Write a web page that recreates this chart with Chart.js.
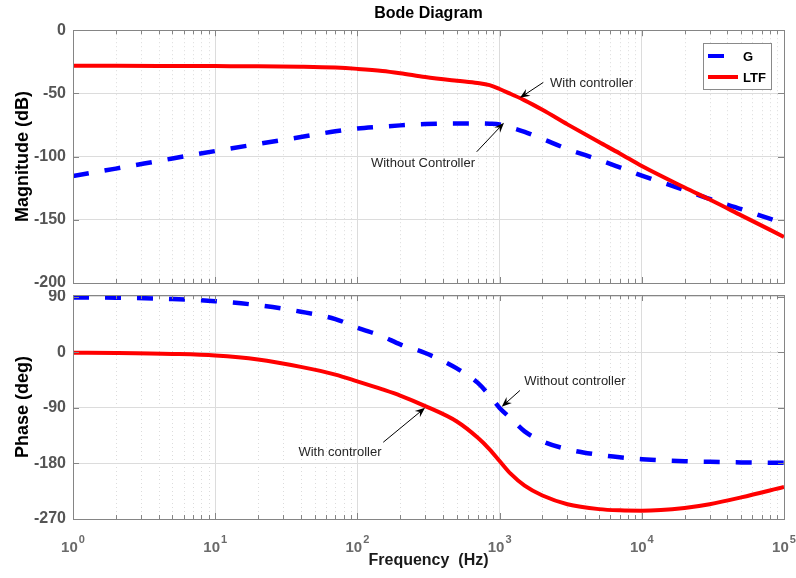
<!DOCTYPE html>
<html>
<head>
<meta charset="utf-8">
<script src="https://cdn.jsdelivr.net/npm/chart.js@4.4.0/dist/chart.umd.min.js"></script>
<style>
  body { margin: 0; background: #fff; }
  #wrap { position: relative; width: 796px; height: 578px; background: #fff; }
  .box { position: absolute; left: 0; width: 796px; }
</style>
</head>
<body>
<div id="wrap">
  <div class="box" style="top:0;height:290px"><canvas id="mag" width="796" height="290"></canvas></div>
  <div class="box" style="top:290px;height:288px"><canvas id="phase" width="796" height="288"></canvas></div>
</div>
<script>
// frequencies (Hz)
const freq = [1, 2, 5, 10, 20, 40, 70, 100, 150, 200, 300, 500, 700, 850, 1000,
  1200, 1500, 2000, 3000, 5000, 7000, 10000, 20000, 30000, 50000, 100000];

// magnitude (dB)
const gMag = [-115.4, -109.5, -101.5, -95.6, -90, -84.5, -80, -77.8, -76.3, -75.3, -74.3,
  -73.8, -73.8, -74, -74.5, -77, -80.5, -86, -94, -102.5, -108.5, -115, -126.5, -133.5, -141.5, -153];
const ltfMag = [-28.2, -28.2, -28.3, -28.4, -28.5, -28.9, -29.6, -30.6, -32.2, -34, -37,
  -40, -41.8, -43.5, -46.5, -50.5, -55.5, -63, -74.5, -88.5, -97.5, -107.5, -124.5, -134, -146.5, -163.5];

// phase (deg)
const gPhase = [89, 88.7, 86.5, 83, 76.5, 66, 54, 40, 26, 13, -1, -26, -49, -70, -90,
  -107, -128, -144, -157, -166, -170, -173, -176.3, -177.3, -178.3, -179];
const ltfPhase = [-0.5, -1, -2.5, -5, -11.5, -23.5, -36, -47, -60, -70, -87, -112, -138, -157, -176,
  -197, -216, -232, -246, -254, -256, -256.5, -252, -246, -235, -218];

const freqTicks = [1, 10, 100, 1000, 10000, 100000];
const magTicks = [0, -50, -100, -150, -200];
const phaseTicks = [90, 0, -90, -180, -270];

const seriesNames = ['G', 'LTF'];
const seriesColors = ['#0000ff', '#ff0000'];

const magNotes = [
  { text: 'With controller', tx: 2262, ty: -42.5, align: 'left', ax: 2030, ay: -41.3, hx: 1390, hy: -53.5 },
  { text: 'Without Controller', tx: 289, ty: -105.1, align: 'center', ax: 690, ay: -96.2, hx: 1074, hy: -73.3 }
];
const phaseNotes = [
  { text: 'Without controller', tx: 1492, ty: -46.6, align: 'left', ax: 1390, ay: -61.7, hx: 1035, hy: -88 },
  { text: 'With controller', tx: 75.4, ty: -162.8, align: 'center', ax: 152, ay: -145.6, hx: 299, hy: -89.8 }
];

const FONT = 'Liberation Sans, Arial, sans-serif';
const DASH = [16, 16];

function pts(ys) {
  return freq.map((f, i) => ({ x: f, y: ys[i] }));
}

function drawArrow(ctx, x1, y1, x2, y2) {
  const ang = Math.atan2(y2 - y1, x2 - x1);
  const len = 10, wid = 4;
  ctx.save();
  ctx.strokeStyle = '#000';
  ctx.fillStyle = '#000';
  ctx.lineWidth = 1;
  ctx.beginPath();
  ctx.moveTo(x1, y1);
  ctx.lineTo(x2 - Math.cos(ang) * 6, y2 - Math.sin(ang) * 6);
  ctx.stroke();
  ctx.translate(x2, y2);
  ctx.rotate(ang);
  ctx.beginPath();
  ctx.moveTo(0, 0);
  ctx.lineTo(-len, -wid);
  ctx.lineTo(-len * 0.65, 0);
  ctx.lineTo(-len, wid);
  ctx.closePath();
  ctx.fill();
  ctx.restore();
}

const bodePlugin = {
  id: 'bode',
  beforeDatasetsDraw(chart) {
    const { ctx, chartArea: a, scales: { x } } = chart;
    ctx.save();
    ctx.strokeStyle = '#dcdcdc';
    ctx.lineWidth = 1;
    ctx.setLineDash([1, 3]);
    for (let d = 1; d < 100000; d *= 10) {
      for (let k = 2; k <= 9; k++) {
        const px = Math.round(x.getPixelForValue(k * d)) + 0.5;
        ctx.beginPath();
        ctx.moveTo(px, a.top);
        ctx.lineTo(px, a.bottom);
        ctx.stroke();
      }
    }
    ctx.restore();
  },
  afterDatasetsDraw(chart, args, opts) {
    const { ctx, chartArea: a, scales: { x, y } } = chart;
    ctx.save();
    // box and inward ticks
    ctx.strokeStyle = '#858585';
    ctx.lineWidth = 1;
    ctx.strokeRect(Math.round(a.left) + 0.5, Math.round(a.top) + 0.5,
      Math.round(a.right - a.left), Math.round(a.bottom - a.top));
    ctx.beginPath();
    for (let d = 1; d <= 100000; d *= 10) {
      for (let k = 1; k <= 9; k++) {
        const v = k * d;
        if (v > 100000) break;
        const px = Math.round(x.getPixelForValue(v)) + 0.5;
        const tl = k === 1 ? 6 : 4;
        ctx.moveTo(px, a.bottom); ctx.lineTo(px, a.bottom - tl);
        ctx.moveTo(px, a.top); ctx.lineTo(px, a.top + tl);
      }
    }
    y.ticks.forEach(t => {
      const py = Math.round(y.getPixelForValue(t.value)) + 0.5;
      ctx.moveTo(a.left, py); ctx.lineTo(a.left + 6, py);
      ctx.moveTo(a.right, py); ctx.lineTo(a.right - 6, py);
    });
    ctx.stroke();

    // decade labels 10^n with a raised exponent
    if (opts.xLabels) {
      ctx.fillStyle = '#6a6a6a';
      ctx.textAlign = 'left';
      ctx.textBaseline = 'alphabetic';
      freqTicks.forEach(v => {
        const exp = String(Math.round(Math.log10(v)));
        ctx.font = 'bold 15px ' + FONT;
        const w1 = ctx.measureText('10').width;
        ctx.font = 'bold 11px ' + FONT;
        const w2 = ctx.measureText(exp).width;
        const left = x.getPixelForValue(v) - (w1 + w2 + 1) / 2;
        ctx.font = 'bold 15px ' + FONT;
        ctx.fillText('10', left, a.bottom + 33);
        ctx.font = 'bold 11px ' + FONT;
        ctx.fillText(exp, left + w1 + 1, a.bottom + 24);
      });
    }

    // annotations
    ctx.font = '13px ' + FONT;
    ctx.fillStyle = '#262626';
    ctx.textBaseline = 'middle';
    (opts.notes || []).forEach(n => {
      ctx.textAlign = n.align;
      ctx.fillText(n.text, x.getPixelForValue(n.tx), y.getPixelForValue(n.ty));
      drawArrow(ctx, x.getPixelForValue(n.ax), y.getPixelForValue(n.ay),
        x.getPixelForValue(n.hx), y.getPixelForValue(n.hy));
    });

    // legend
    if (opts.legend) {
      const lx = Math.round(a.right) - 81, ly = Math.round(a.top) + 13;
      ctx.fillStyle = '#fff';
      ctx.fillRect(lx, ly, 68, 46);
      ctx.strokeStyle = '#8a8a8a';
      ctx.strokeRect(lx + 0.5, ly + 0.5, 68, 46);
      ctx.font = 'bold 13px ' + FONT;
      ctx.textAlign = 'left';
      seriesNames.forEach((name, i) => {
        const yy = ly + 13 + i * 21;
        ctx.strokeStyle = seriesColors[i];
        ctx.lineWidth = 4;
        ctx.setLineDash(i === 0 ? DASH : []);
        ctx.beginPath();
        ctx.moveTo(lx + 5, yy);
        ctx.lineTo(lx + 35, yy);
        ctx.stroke();
        ctx.setLineDash([]);
        ctx.fillStyle = '#000';
        ctx.fillText(name, lx + 40, yy + 1);
      });
    }
    ctx.restore();
  }
};

function datasets(gVals, ltfVals) {
  return [
    {
      label: seriesNames[0], data: pts(gVals), borderColor: seriesColors[0],
      borderWidth: 4.5, borderDash: DASH, pointRadius: 0, cubicInterpolationMode: 'monotone', order: 1
    },
    {
      label: seriesNames[1], data: pts(ltfVals), borderColor: seriesColors[1],
      borderWidth: 4, pointRadius: 0, cubicInterpolationMode: 'monotone', order: 0
    }
  ];
}

function xAxis(showTitle) {
  return {
    type: 'logarithmic', min: 1, max: 100000,
    afterBuildTicks: s => { s.ticks = freqTicks.map(v => ({ value: v })); },
    afterFit: s => {
      s.height = showTitle ? 59 : 7;
      s.paddingLeft = 0; s.paddingRight = 0;
    },
    grid: { color: '#dcdcdc', drawTicks: false },
    border: { display: false },
    ticks: { display: false },
    title: {
      display: showTitle, text: 'Frequency  (Hz)', color: '#1a1a1a',
      font: { family: FONT, size: 16, weight: 'bold' }, padding: { top: 0, bottom: 8 }
    }
  };
}

function yAxis(min, max, tickVals, label) {
  return {
    min: min, max: max,
    afterBuildTicks: s => { s.ticks = tickVals.map(v => ({ value: v })); },
    afterFit: s => {
      s.width = 73;
      s.paddingTop = 0; s.paddingBottom = 0;
    },
    grid: { color: '#dcdcdc', drawTicks: false },
    border: { display: false },
    ticks: {
      padding: 7, color: '#555', font: { family: FONT, size: 16, weight: 'bold' }
    },
    title: {
      display: true, text: label, color: '#000',
      font: { family: FONT, size: 18, weight: 'bold' }, padding: { top: 12, bottom: 0 }
    }
  };
}

new Chart(document.getElementById('mag'), {
  type: 'line',
  data: { datasets: datasets(gMag, ltfMag) },
  options: {
    responsive: false, animation: false,
    layout: { padding: { left: 0, right: 12, top: 0, bottom: 0 } },
    scales: { x: xAxis(false), y: yAxis(-200, 0, magTicks, 'Magnitude (dB)') },
    plugins: {
      legend: { display: false }, tooltip: { enabled: false },
      title: {
        display: true, text: 'Bode Diagram', fullSize: false, color: '#000',
        font: { family: FONT, size: 16, weight: 'bold' }, padding: { top: 4, bottom: 7 }
      },
      bode: { legend: true, xLabels: false, notes: magNotes }
    }
  },
  plugins: [bodePlugin]
});

new Chart(document.getElementById('phase'), {
  type: 'line',
  data: { datasets: datasets(gPhase, ltfPhase) },
  options: {
    responsive: false, animation: false,
    layout: { padding: { left: 0, right: 12, top: 5, bottom: 0 } },
    scales: { x: xAxis(true), y: yAxis(-270, 93, phaseTicks, 'Phase (deg)') },
    plugins: {
      legend: { display: false }, tooltip: { enabled: false },
      bode: { legend: false, xLabels: true, notes: phaseNotes }
    }
  },
  plugins: [bodePlugin]
});
</script>
</body>
</html>
